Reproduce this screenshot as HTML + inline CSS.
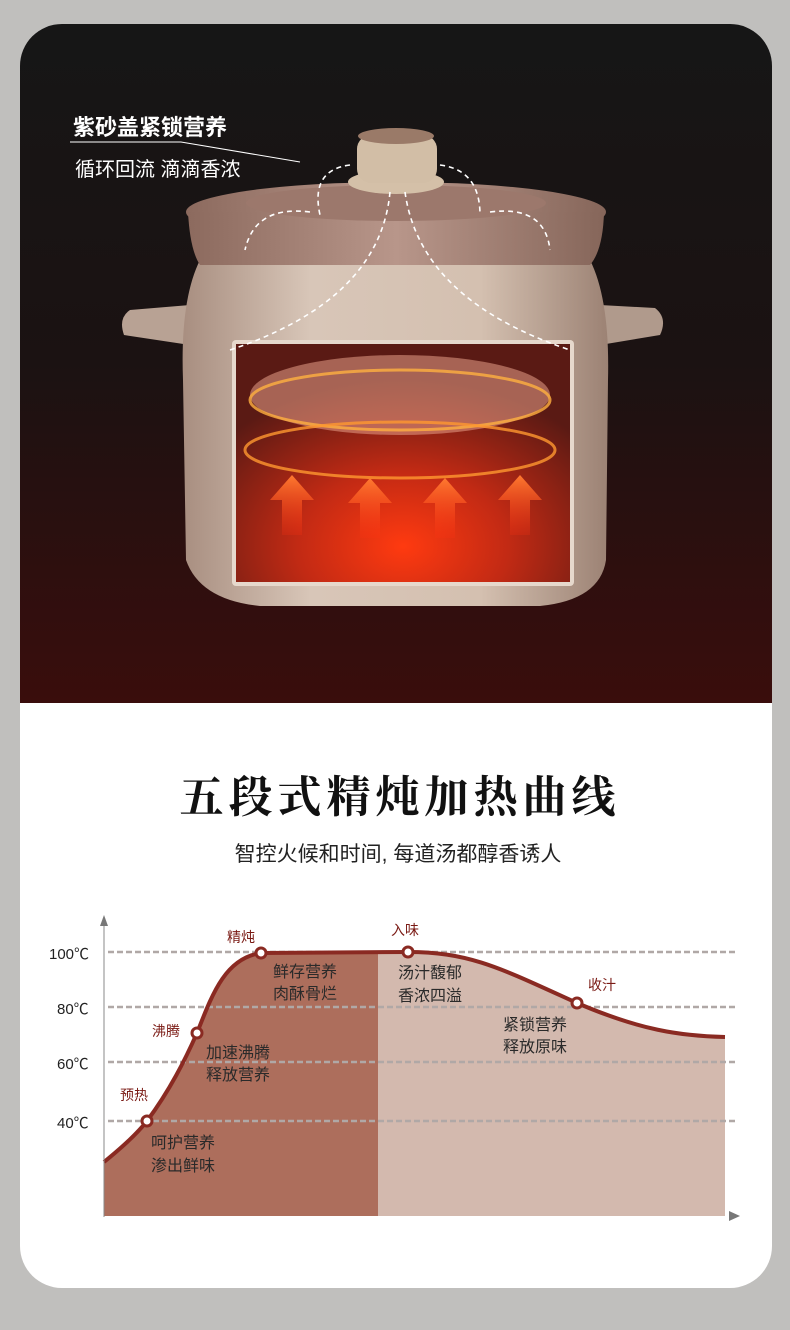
<!DOCTYPE html>
<html><head><meta charset="utf-8"><style>
html,body{margin:0;padding:0;background:#c0bfbd;}
body{width:790px;height:1330px;overflow:hidden;position:relative;font-family:"Liberation Sans","Noto Sans CJK SC",sans-serif;}
svg{position:absolute;left:0;top:0}
</style></head><body>
<svg width="790" height="1330" viewBox="0 0 790 1330">
<defs>
<clipPath id="card"><rect x="20" y="24" width="752" height="1264" rx="42"/></clipPath>
<linearGradient id="bg" x1="0" y1="0" x2="0" y2="1">
<stop offset="0" stop-color="#161616"/><stop offset="0.5" stop-color="#1b1212"/><stop offset="1" stop-color="#3a0d0c"/></linearGradient>
<radialGradient id="glow" cx="0.5" cy="0.85" r="0.7">
<stop offset="0" stop-color="#ff3a10"/><stop offset="0.45" stop-color="#c22a14"/><stop offset="1" stop-color="#5a1a14"/></radialGradient>
<linearGradient id="body" x1="0" y1="0" x2="1" y2="0">
<stop offset="0" stop-color="#a88e80"/><stop offset="0.3" stop-color="#d8c6b8"/><stop offset="0.7" stop-color="#d4c0b0"/><stop offset="1" stop-color="#9c8274"/></linearGradient>
<linearGradient id="lid" x1="0" y1="0" x2="1" y2="0">
<stop offset="0" stop-color="#8c6a5e"/><stop offset="0.5" stop-color="#b8968a"/><stop offset="1" stop-color="#86665a"/></linearGradient>
<linearGradient id="arr" x1="0" y1="0" x2="0" y2="1"><stop offset="0" stop-color="#ff7a30"/><stop offset="1" stop-color="#ff3010" stop-opacity="0.2"/></linearGradient>
</defs>
<g clip-path="url(#card)">
<rect x="20" y="24" width="752" height="680" fill="url(#bg)"/>
<rect x="20" y="703" width="752" height="600" fill="#ffffff"/>
<path d="M190 305 L130 310 Q118 318 124 335 L190 345 Z" fill="#b8a294"/>
<path d="M600 305 L655 308 Q668 318 660 335 L600 345 Z" fill="#b09a8c"/>
<path d="M200 260 Q180 300 183 380 L186 560 Q200 600 260 606 L540 606 Q600 600 606 560 L608 380 Q610 300 590 260 Z" fill="url(#body)"/>
<ellipse cx="396" cy="212" rx="210" ry="30" fill="url(#lid)"/>
<path d="M188 212 Q190 250 200 265 L590 265 Q603 250 604 212 Z" fill="url(#lid)"/>
<ellipse cx="396" cy="203" rx="150" ry="18" fill="#9c786c"/>
<ellipse cx="396" cy="182" rx="48" ry="12" fill="#d4c0a8"/>
<rect x="357" y="135" width="80" height="48" rx="14" fill="#d2bea6"/>
<ellipse cx="396" cy="136" rx="38" ry="8" fill="#9a7a68"/>
<rect x="232" y="340" width="342" height="246" rx="4" fill="#e6d8cc"/>
<rect x="236" y="344" width="334" height="238" fill="url(#glow)"/>
<ellipse cx="400" cy="395" rx="150" ry="40" fill="#e8a088" opacity="0.55"/>
<ellipse cx="400" cy="400" rx="150" ry="30" fill="none" stroke="#ffb040" stroke-width="3" opacity="0.8"/>
<ellipse cx="400" cy="450" rx="155" ry="28" fill="none" stroke="#ff9830" stroke-width="3" opacity="0.8"/>
<g fill="url(#arr)">
<path d="M292 475 l-22 25 h12 v35 h20 v-35 h12 z"/>
<path d="M370 478 l-22 25 h12 v35 h20 v-35 h12 z"/>
<path d="M445 478 l-22 25 h12 v35 h20 v-35 h12 z"/>
<path d="M520 475 l-22 25 h12 v35 h20 v-35 h12 z"/>
</g>
<g fill="none" stroke="#fff" stroke-width="1.6" stroke-dasharray="5 4">
<path d="M350 165 Q310 170 320 215"/><path d="M440 165 Q480 170 480 215"/>
<path d="M310 212 Q255 205 245 250"/><path d="M490 212 Q545 205 550 250"/>
<path d="M390 192 Q380 300 230 350"/><path d="M405 192 Q420 300 570 350"/>
</g>
<text x="73" y="135" font-size="22" font-weight="bold" fill="#fff">紫砂盖紧锁营养</text>
<path d="M70 142 H181 L300 162" stroke="#fff" stroke-width="1" fill="none"/>
<text x="75" y="176" font-size="20" fill="#fff">循环回流 滴滴香浓</text>
<text x="400" y="812" font-size="44" font-weight="bold" text-anchor="middle" fill="#111" font-family="'Noto Serif CJK SC',serif" letter-spacing="5">五段式精炖加热曲线</text>
<text x="398" y="861" font-size="21" text-anchor="middle" fill="#222">智控火候和时间, 每道汤都醇香诱人</text>
<path d="M104 1162 C125 1145 140 1130 147 1121 C170 1090 185 1060 197 1033 C212 995 225 958 261 953 L378 953 L378 1216 L104 1216 Z" fill="#ad6e5c"/>
<path d="M378 953 L408 952 C470 952 500 968 577 1003 C640 1030 680 1036 725 1037 L725 1216 L378 1216 Z" fill="#d3b9ae"/>
<g stroke="#b0a8a6" stroke-width="2.5" stroke-dasharray="6 3">
<line x1="108" y1="952" x2="735" y2="952"/><line x1="108" y1="1007" x2="735" y2="1007"/>
<line x1="108" y1="1062" x2="735" y2="1062"/><line x1="108" y1="1121" x2="735" y2="1121"/>
</g>
<path d="M104 1162 C125 1145 140 1130 147 1121 C170 1090 185 1060 197 1033 C212 995 225 958 261 953 L408 952 C470 952 500 968 577 1003 C640 1030 680 1036 725 1037" fill="none" stroke="#8a2a22" stroke-width="4"/>
<line x1="104" y1="920" x2="104" y2="1217" stroke="#888" stroke-width="1"/>
<path d="M100 926 L104 915 L108 926 Z" fill="#777"/>
<path d="M729 1211 L740 1216 L729 1221 Z" fill="#777"/>
<g fill="#fff" stroke="#8a2a22" stroke-width="3">
<circle cx="147" cy="1121" r="5"/><circle cx="197" cy="1033" r="5"/><circle cx="261" cy="953" r="5"/><circle cx="408" cy="952" r="5"/><circle cx="577" cy="1003" r="5"/>
</g>
<g font-size="15" fill="#222">
<text x="49" y="959">100℃</text><text x="57" y="1014">80℃</text><text x="57" y="1069">60℃</text><text x="57" y="1128">40℃</text>
</g>
<g font-size="14" fill="#7a1a14">
<text x="120" y="1100">预热</text><text x="152" y="1036">沸腾</text><text x="227" y="942">精炖</text><text x="391" y="935">入味</text><text x="588" y="990">收汁</text>
</g>
<g font-size="16" fill="#2a2a2a">
<text x="151" y="1148">呵护营养</text><text x="151" y="1171">渗出鲜味</text>
<text x="206" y="1058">加速沸腾</text><text x="206" y="1080">释放营养</text>
<text x="273" y="977">鲜存营养</text><text x="273" y="999">肉酥骨烂</text>
<text x="398" y="978">汤汁馥郁</text><text x="398" y="1001">香浓四溢</text>
<text x="503" y="1030">紧锁营养</text><text x="503" y="1052">释放原味</text>
</g>
</g>
</svg>
</body></html>
